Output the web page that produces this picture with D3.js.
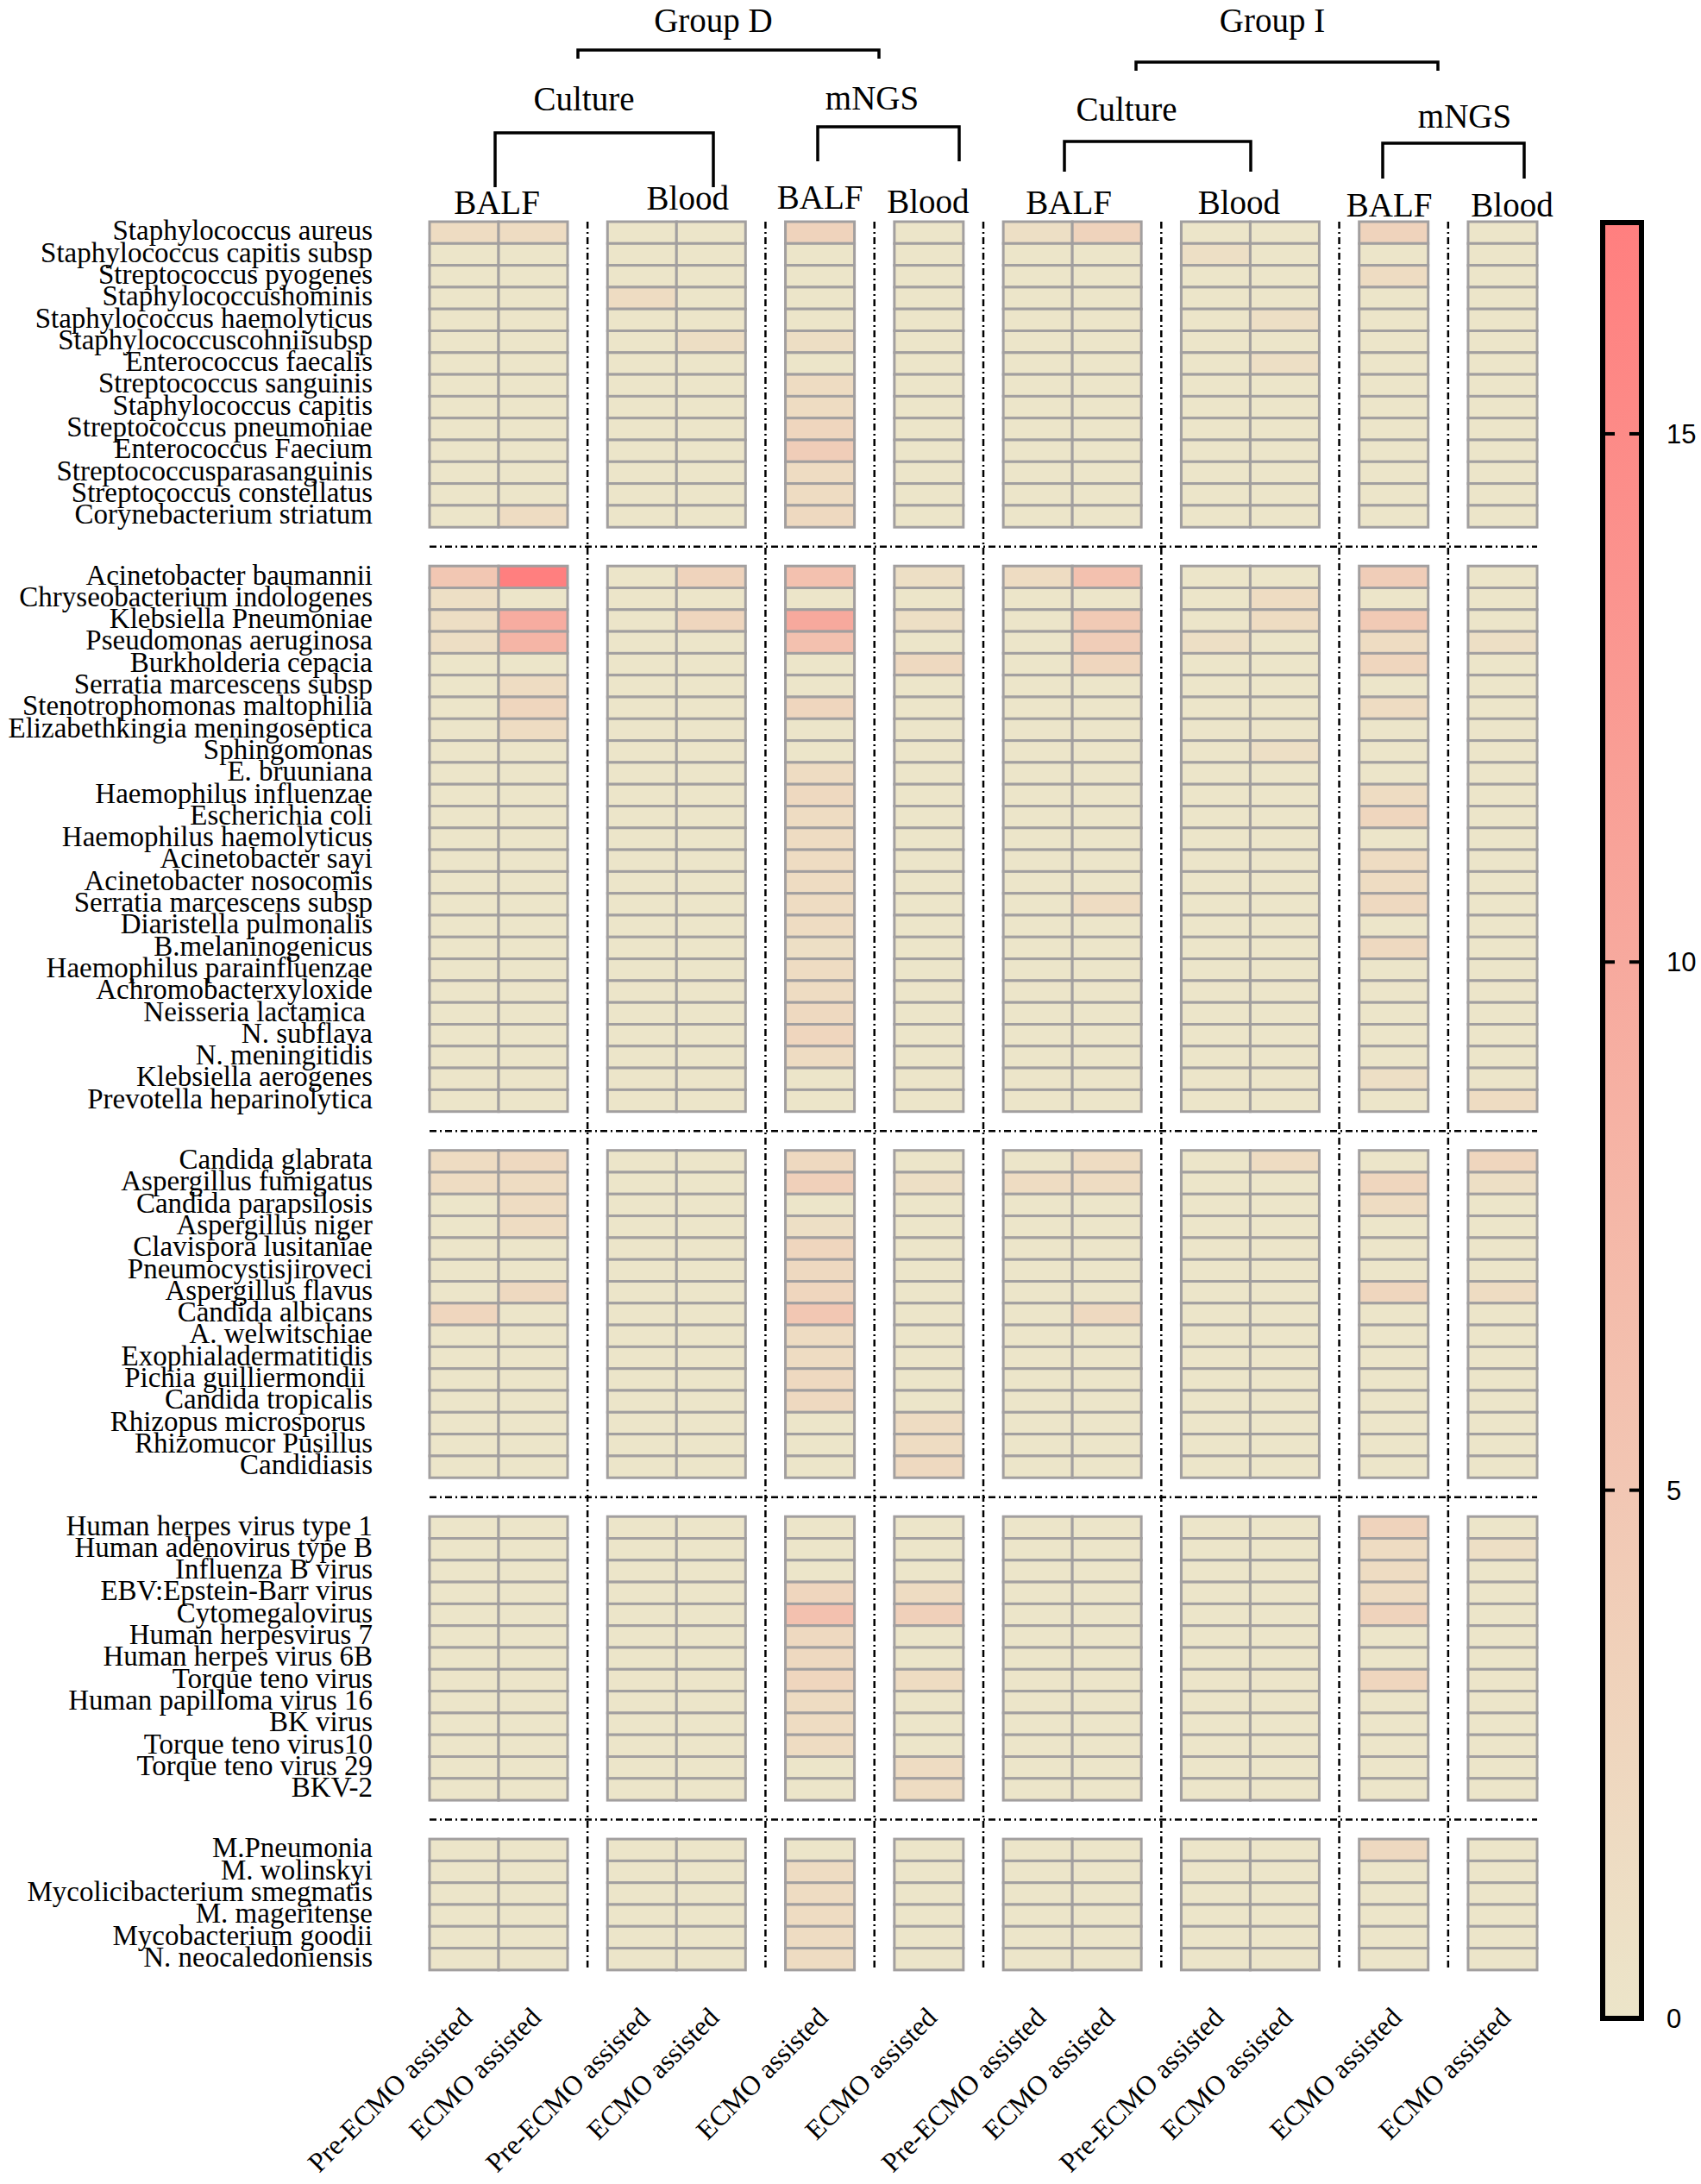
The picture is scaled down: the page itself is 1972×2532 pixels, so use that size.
<!DOCTYPE html>
<html><head><meta charset="utf-8">
<script src="https://cdn.jsdelivr.net/npm/d3@7"></script>
<style>body{margin:0;background:#fff}svg text{white-space:pre}</style>
</head><body><svg id="chart" width="1972" height="2532"></svg>
<script>
// ---------------- DATA ----------------
const columnLabels = ["Pre-ECMO assisted","ECMO assisted","Pre-ECMO assisted","ECMO assisted",
  "ECMO assisted","ECMO assisted","Pre-ECMO assisted","ECMO assisted",
  "Pre-ECMO assisted","ECMO assisted","ECMO assisted","ECMO assisted"];
const columnPanel = [0,0,1,1,2,3,4,4,5,5,6,7];
const sampleLabels = ["BALF","Blood","BALF","Blood","BALF","Blood","BALF","Blood"];
const methodLabels = ["Culture","mNGS","Culture","mNGS"];
const groupLabels = ["Group D","Group I"];
const colorTicks = [0,5,10,15];

const gramPositive = ["Staphylococcus aureus","Staphylococcus capitis subsp","Streptococcus pyogenes",
  "Staphylococcushominis","Staphylococcus haemolyticus","Staphylococcuscohniisubsp","Enterococcus faecalis",
  "Streptococcus sanguinis","Staphylococcus capitis","Streptococcus pneumoniae","Enterococcus Faecium",
  "Streptococcusparasanguinis","Streptococcus constellatus","Corynebacterium striatum"];
const gramPositiveValues = [
  [1.5,1.5,0,0,3,0,1,3,0,0,3,0],
  [0,0,0,0,0,0,0,0,1,0,0,0],
  [0,0,0,0,0,0,0,0,0,0,1.5,0],
  [0,0,1.5,0,0,0,0,0,0,0,0,0],
  [0,0,0,0,0,0,0,0,0,1,0,0],
  [0,0,0,1.2,1.2,0,0,0,0,0,0,0],
  [0,0,0,0,0,0,0,0,0,1,0,0],
  [0,0,0,0,1.5,0,0,0,0,0,0,0],
  [0,0,0,0,1.5,0,0,0,0,0,0,0],
  [0,0,0,0,2.5,0,0,0,0,0,0,0],
  [0,0,0,0,4,0,0,0,0,0,0,0],
  [0,0,0,0,1.5,0,0,0,0,0,0,0],
  [0,0,0,0,1.5,0,0,0,0,0,0,0],
  [0,1.5,0,0,2,0,0,0,0,0,0,0]];

const gramNegative = ["Acinetobacter baumannii","Chryseobacterium indologenes","Klebsiella Pneumoniae",
  "Pseudomonas aeruginosa","Burkholderia cepacia","Serratia marcescens subsp","Stenotrophomonas maltophilia",
  "Elizabethkingia meningoseptica","Sphingomonas","E. bruuniana","Haemophilus influenzae","Escherichia coli",
  "Haemophilus haemolyticus","Acinetobacter sayi","Acinetobacter nosocomis","Serratia marcescens subsp",
  "Diaristella pulmonalis","B.melaninogenicus","Haemophilus parainfluenzae","Achromobacterxyloxide",
  "Neisseria lactamica ","N. subflava","N. meningitidis","Klebsiella aerogenes","Prevotella heparinolytica"];
const gramNegativeValues = [
  [5,17,0,3,6,1,1.5,6,0,0,4,0],
  [1,0,0,0,0,0,0,0,0,1.5,0,0],
  [1.2,9.5,0,2.5,10,1,0,4.5,0,1.5,4.5,0],
  [1.2,8,0,0,6,0,0,4,1,0,1.5,1],
  [0,0,0,0,0,2,0,2.5,0,0,2.5,0],
  [0,1.5,0,0,0,0,0,0,0,0,0,0],
  [0,2.5,0,0,2.5,0,0,0,0,0,1.5,0],
  [0,1.5,0,0,0,0,0,0,0,0,0,0],
  [0,0,0,0,0,0,0,0,0,1,0,0],
  [0,0,0,0,1.5,0,0,0,0,0,0,0],
  [0,0,0,0,2,0,0,0,0,0,1.5,0],
  [0,0,0,0,1.5,0,0,0,0,0,2.5,0],
  [0,0,0,0,1.5,0,0,0,0,0,0,0],
  [0,0,0,0,1.5,0,0,0,0,0,1.5,0],
  [0,0,0,0,1.5,0,0,0,0,0,1.5,0],
  [0,0,0,0,1.5,0,0,1.5,0,0,2,0],
  [0,0,0,0,1.5,0,0,0,0,0,0,0],
  [0,0,0,0,1,0,0,0,0,0,2,0],
  [0,0,0,0,1.5,0,0,0,0,0,0,0],
  [0,0,0,0,1.5,0,0,0,0,0,0,0],
  [0,0,0,0,2,0,0,0,0,0,0,0],
  [0,0,0,0,2.5,0,0,0,0,0,0,0],
  [0,0,0,0,1.5,0,0,0,0,0,0,0],
  [0,0,0,0,0,0,0,0,0,0,1,0],
  [0,0,0,0,0,0,0,0,0,0,0,1.5]];

const fungi = ["Candida glabrata","Aspergillus fumigatus","Candida parapsilosis","Aspergillus niger",
  "Clavispora lusitaniae","Pneumocystisjiroveci","Aspergillus flavus","Candida albicans","A. welwitschiae",
  "Exophialadermatitidis","Pichia guilliermondii ","Candida tropicalis","Rhizopus microsporus ",
  "Rhizomucor Pusillus","Candidiasis"];
const fungiValues = [
  [1.5,2,0,0,2,0,0,1.5,0,1.5,0,2.5],
  [1.5,1.5,0,0,3.5,1,1.5,1.5,0,0,2.5,1],
  [0,1.5,0,0,0,0,0,0,0,0,1.5,0],
  [0,1.5,0,0,1,0,0,0,0,0,0,0],
  [0,0,0,0,2.5,0,0,0,0,0,0,0],
  [0,0,0,0,2,0,0,0,0,0,0,0],
  [0,2,0,0,2.5,0,0,0,0,0,2.5,1.5],
  [2.5,0,0,0,5,0,0,2,0,0,0,0],
  [0,0,0,0,1.5,0,0,0,0,0,0,0],
  [0,0,0,0,1.5,0,0,0,0,0,0,0],
  [0,0,0,0,2,0,0,0,0,0,0,0],
  [0,0,0,0,2,0,0,0,0,0,0,0],
  [0,0,0,0,0,1.5,0,0,0,0,0,0],
  [0,0,0,0,0,1.5,0,0,0,0,0,0],
  [0,0,0,0,0,2,0,0,0,0,0,0]];

const viruses = ["Human herpes virus type 1","Human adenovirus type B","Influenza B virus",
  "EBV:Epstein-Barr virus","Cytomegalovirus","Human herpesvirus 7","Human herpes virus 6B",
  "Torque teno virus","Human papilloma virus 16","BK virus","Torque teno virus10",
  "Torque teno virus 29","BKV-2"];
const virusValues = [
  [0,0,0,0,0,0,0,0,0,0,3,0],
  [0,0,0,0,0,0,0,0,0,0,1.5,1],
  [0,0,0,0,0,0,0,0,0,0,1.5,0],
  [0,0,0,0,2.5,1.5,0,0,0,0,1.5,0],
  [0,0,0,0,6,3.5,0,0,0,0,3,0],
  [0,0,0,0,2,0,0,0,0,0,0,0],
  [0,0,0,0,2,0,0,0,0,0,0,0],
  [0,0,0,0,2.5,1.5,0,0,0,0,2.5,0],
  [0,0,0,0,1.5,0,0,0,0,0,0,0],
  [0,0,0,0,1.5,0,0,0,0,0,0,0],
  [0,0,0,0,1.5,0,0,0,0,0,0,0],
  [0,0,0,0,0,1.5,0,0,0,0,0,0],
  [0,0,0,0,0,1.5,0,0,0,0,0,0]];

const others = ["M.Pneumonia","M. wolinskyi","Mycolicibacterium smegmatis","M. mageritense",
  "Mycobacterium goodii","N. neocaledoniensis"];
const otherValues = [
  [0,0,0,0,0,0,0,0,0,0,2,0],
  [0,0,0,0,1.5,0,0,0,0,0,0,0],
  [0,0,0,0,1.5,0,0,0,0,0,0,0],
  [0,0,0,0,1.5,0,0,0,0,0,0,0],
  [0,0,0,0,1.5,0,0,0,0,0,0,0],
  [0,0,0,0,1.5,0,0,0,0,0,0,0]];

const blocks = [
  {rows: gramPositive, values: gramPositiveValues},
  {rows: gramNegative, values: gramNegativeValues},
  {rows: fungi, values: fungiValues},
  {rows: viruses, values: virusValues},
  {rows: others, values: otherValues}];

// ---------------- LAYOUT ----------------
const L = {
  gridLeft: 498, gridRight: 1782, gridTop: 257, rowH: 25.3, blockGap: 45, colW: 80,
  labelX: 432, serif: "'Liberation Serif','Times New Roman',serif", sans: "'Liberation Sans',Arial,sans-serif",
  cbX: 1858, cbW: 45, cbTop: 258, cbBottom: 2340,
  sampleDx: [-2, 13, 0, -1, -4, -13, -5, 11],
  sampleY: [248, 243, 242, 247, 248, 248, 251, 251],
  method: [{x:677,y:128,b:[574,827,154,217]},{x:1011,y:127,b:[948,1112,147,187]},
           {x:1306,y:140,b:[1234,1450,164,199]},{x:1698,y:148,b:[1603,1767,166,207]}],
  group: [{x:827,y:37,b:[670,1019,58,68]},{x:1475,y:37,b:[1317,1667,72,82]}]
};

const svg = d3.select("#chart");
const nPanels = 8, nCols = columnLabels.length;
const gapRatio = (L.gridRight - L.gridLeft - nCols*L.colW)/(nPanels-1)/L.colW;
const colUnit = c => c + columnPanel[c]*gapRatio;
const x = d3.scaleLinear().domain([0, nCols + (nPanels-1)*gapRatio]).range([L.gridLeft, L.gridRight]);

const totalRows = d3.sum(blocks, b => b.rows.length);
const rowGapRatio = L.blockGap / L.rowH;
const y = d3.scaleLinear().domain([0, totalRows + (blocks.length-1)*rowGapRatio])
  .range([L.gridTop, L.gridTop + totalRows*L.rowH + (blocks.length-1)*L.blockGap]);

const cmax = 17;
const color = d3.scaleLinear().domain([0, cmax]).range(["#ECE5C9", "#FF7F7F"]).interpolate(d3.interpolateRgb);

// cells
let rowStart = 0;
const blockBounds = [];
blocks.forEach((blk, bi) => {
  const u0 = rowStart + bi*rowGapRatio;
  blockBounds.push([u0, u0 + blk.rows.length]);
  const g = svg.append("g");
  blk.rows.forEach((name, ri) => {
    const yu = u0 + ri;
    svg.append("text").attr("x", L.labelX).attr("y", y(yu+1) - 4)
      .attr("text-anchor","end").attr("font-family", L.serif).attr("font-size", 33)
      .attr("fill","#000").text(name);
    g.selectAll(null).data(blk.values[ri]).enter().append("rect")
      .attr("x", (v,c) => x(colUnit(c))).attr("width", (v,c) => x(colUnit(c)+1) - x(colUnit(c)))
      .attr("y", y(yu)).attr("height", y(yu+1) - y(yu))
      .attr("fill", v => color(v)).attr("stroke", "#A29F9F").attr("stroke-width", 3);
  });
  rowStart += blk.rows.length;
});

// dash-dot separators
const dash = "8,4,2,4";
for (let p = 0; p < nPanels-1; p++) {
  const lastCol = columnPanel.lastIndexOf(p);
  const xm = (x(colUnit(lastCol)+1) + x(colUnit(lastCol+1)))/2;
  svg.append("line").attr("x1", xm).attr("x2", xm)
    .attr("y1", y(0)).attr("y2", y(blockBounds[blockBounds.length-1][1]))
    .attr("stroke","#000").attr("stroke-width",2.5).attr("stroke-dasharray", dash);
}
for (let b = 0; b < blocks.length-1; b++) {
  const ym = (y(blockBounds[b][1]) + y(blockBounds[b+1][0]))/2;
  svg.append("line").attr("x1", x.range()[0]).attr("x2", x.range()[1])
    .attr("y1", ym).attr("y2", ym)
    .attr("stroke","#000").attr("stroke-width",2.5).attr("stroke-dasharray", dash);
}

// bottom column labels
columnLabels.forEach((lab, c) => {
  const cx = (x(colUnit(c)) + x(colUnit(c)+1))/2 + 11;
  svg.append("text").attr("transform", `translate(${cx},2341) rotate(-45)`)
    .attr("text-anchor","end").attr("font-family", L.serif).attr("font-size", 32).text(lab);
});

// header: sample labels
sampleLabels.forEach((lab, p) => {
  const cols = columnPanel.map((q,i)=>q===p?i:-1).filter(i=>i>=0);
  const cx = (x(colUnit(cols[0])) + x(colUnit(cols[cols.length-1])+1))/2 + L.sampleDx[p];
  svg.append("text").attr("x", cx).attr("y", L.sampleY[p]).attr("text-anchor","middle")
    .attr("font-family", L.serif).attr("font-size", 39).text(lab);
});
function bracket(b) {
  const [x1,x2,yt,yb] = b;
  svg.append("path").attr("d", `M${x1},${yb}V${yt}H${x2}V${yb}`)
    .attr("fill","none").attr("stroke","#000").attr("stroke-width",3.5);
}
methodLabels.forEach((lab,i) => {
  const m = L.method[i];
  svg.append("text").attr("x", m.x).attr("y", m.y).attr("text-anchor","middle")
    .attr("font-family", L.serif).attr("font-size", 39).text(lab);
  bracket(m.b);
});
groupLabels.forEach((lab,i) => {
  const m = L.group[i];
  svg.append("text").attr("x", m.x).attr("y", m.y).attr("text-anchor","middle")
    .attr("font-family", L.serif).attr("font-size", 39).text(lab);
  bracket(m.b);
});

// colour bar
const cb = d3.scaleLinear().domain([0, cmax]).range([L.cbBottom, L.cbTop]);
const defs = svg.append("defs");
const grad = defs.append("linearGradient").attr("id","cbg").attr("x1",0).attr("x2",0).attr("y1",1).attr("y2",0);
d3.range(0, 11).forEach(i => grad.append("stop").attr("offset", i/10).attr("stop-color", color(cmax*i/10)));
svg.append("rect").attr("x", L.cbX).attr("y", L.cbTop).attr("width", L.cbW).attr("height", L.cbBottom - L.cbTop)
  .attr("fill","url(#cbg)").attr("stroke","#000").attr("stroke-width",6);
colorTicks.forEach(t => {
  const ty = cb(t);
  if (t > 0) {
    svg.append("line").attr("x1", L.cbX+3).attr("x2", L.cbX+14).attr("y1", ty).attr("y2", ty)
      .attr("stroke","#000").attr("stroke-width",4);
    svg.append("line").attr("x1", L.cbX+L.cbW-14).attr("x2", L.cbX+L.cbW-3).attr("y1", ty).attr("y2", ty)
      .attr("stroke","#000").attr("stroke-width",4);
  }
  svg.append("text").attr("x", 1932).attr("y", ty).attr("dy","0.36em")
    .attr("font-family", L.sans).attr("font-size", 31).text(t);
});
</script></body></html>
